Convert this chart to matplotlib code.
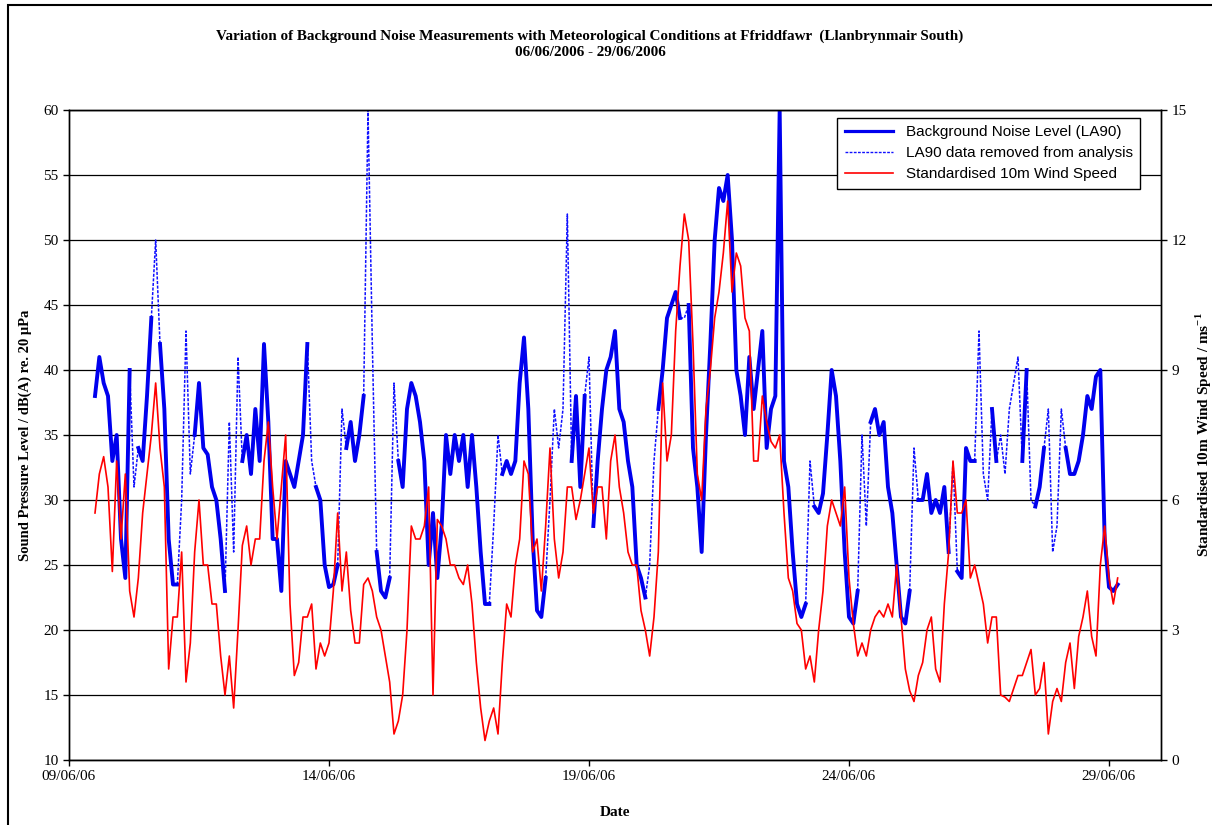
import numpy as np
import matplotlib
matplotlib.use("Agg")
import matplotlib.pyplot as plt
import matplotlib.dates as mdates
from matplotlib.lines import Line2D
from matplotlib.patches import Rectangle
from datetime import datetime, timedelta

# Time axis: hours after 09/06/2006 00:00, 2-hour readings
start = datetime(2006, 6, 9)
hours = np.arange(12, 486, 2)

# Background noise level LA90, dB(A)
la90 = [
    38, 41, 39, 38, 33, 35, 27, 24, 40, 31, 34, 33,
    38, 44, 50, 42, 37, 27, 23.5, 23.5, 30, 43, 32, 35,
    39, 34, 33.5, 31, 30, 27, 23, 36, 26, 41, 33, 35,
    32, 37, 33, 42, 36, 27, 27, 23, 33, 32, 31, 33,
    35, 42, 33, 31, 30, 25, 23.3, 23.5, 25, 37, 34, 36,
    33, 35, 38, 60, 42, 26, 23, 22.5, 24, 39, 33, 31,
    37, 39, 38, 36, 33, 25, 29, 24, 28, 35, 32, 35,
    33, 35, 31, 35, 31, 26, 22, 22, 28, 35, 32, 33,
    32, 33, 39, 42.5, 37, 27, 21.5, 21, 24, 30, 37, 34,
    37, 52, 33, 38, 31, 38, 41, 28, 33, 37, 40, 41,
    43, 37, 36, 33, 31, 25, 24, 22.5, 25, 33, 37, 40,
    44, 45, 46, 44, 44, 45, 34, 31, 26, 35, 42, 50,
    54, 53, 55, 50, 40, 38, 35, 41, 37, 40, 43, 34,
    37, 38, 60, 33, 31, 26, 22, 21, 22, 33, 29.5, 29,
    30.5, 35, 40, 38, 33, 26, 21, 20.5, 23, 35, 28, 36,
    37, 35, 36, 31, 29, 25, 21, 20.5, 23, 34, 30, 30,
    32, 29, 30, 29, 31, 26, 33, 24.5, 24, 34, 33, 33,
    43, 32, 30, 37, 33, 35, 32, 37, 39, 41, 33, 40,
    30, 29.5, 31, 34, 37, 26, 28, 37, 34, 32, 32, 33,
    35, 38, 37, 39.5, 40, 27, 23.3, 23, 23.5,
]

# readings removed from the analysis (hour stamps)
removed_hours = [30, 40, 52, 54, 56, 74, 76, 78, 112, 126, 138, 140, 150,
                 196, 198, 222, 224, 228, 230, 240, 268, 270, 284, 342,
                 366, 368, 390, 408, 420, 424, 430, 432, 434, 436, 438,
                 444, 452, 454, 456, 458]

# Standardised 10m wind speed, m/s
wind = [
    5.7, 6.6, 7.0, 6.3, 4.35, 6.9, 5.1, 6.6, 3.9, 3.3, 4.2, 5.7,
    6.6, 7.5, 8.7, 7.2, 6.3, 2.1, 3.3, 3.3, 4.8, 1.8, 2.7, 4.8,
    6.0, 4.5, 4.5, 3.6, 3.6, 2.4, 1.5, 2.4, 1.2, 3.0, 4.95, 5.4,
    4.5, 5.1, 5.1, 6.9, 7.8, 6.3, 5.1, 6.3, 7.5, 3.6, 1.95, 2.25,
    3.3, 3.3, 3.6, 2.1, 2.7, 2.4, 2.7, 3.9, 5.7, 3.9, 4.8, 3.45,
    2.7, 2.7, 4.05, 4.2, 3.9, 3.3, 3.0, 2.4, 1.8, 0.6, 0.9, 1.5,
    3.0, 5.4, 5.1, 5.1, 5.4, 6.3, 1.5, 5.55, 5.4, 5.1, 4.5, 4.5,
    4.2, 4.05, 4.5, 3.6, 2.25, 1.2, 0.45, 0.9, 1.2, 0.6, 2.25, 3.6,
    3.3, 4.5, 5.1, 6.9, 6.6, 4.8, 5.1, 3.9, 5.4, 7.2, 5.1, 4.2,
    4.8, 6.3, 6.3, 5.55, 6.0, 6.6, 7.2, 5.7, 6.3, 6.3, 5.1, 6.9,
    7.5, 6.3, 5.7, 4.8, 4.5, 4.5, 3.45, 3.0, 2.4, 3.3, 4.8, 8.7,
    6.9, 7.5, 9.9, 11.4, 12.6, 12.0, 9.6, 6.6, 6.0, 8.1, 9.0, 10.2,
    10.8, 11.7, 12.9, 10.8, 11.7, 11.4, 10.2, 9.9, 6.9, 6.9, 8.4, 7.8,
    7.35, 7.2, 7.5, 5.7, 4.2, 3.9, 3.15, 3.0, 2.1, 2.4, 1.8, 3.0,
    3.9, 5.4, 6.0, 5.7, 5.4, 6.3, 4.2, 3.15, 2.4, 2.7, 2.4, 3.0,
    3.3, 3.45, 3.3, 3.6, 3.3, 4.5, 3.3, 2.1, 1.6, 1.35, 1.95, 2.25,
    3.0, 3.3, 2.1, 1.8, 3.6, 4.8, 6.9, 5.7, 5.7, 6.0, 4.2, 4.5,
    4.05, 3.6, 2.7, 3.3, 3.3, 1.5, 1.45, 1.35, 1.65, 1.95, 1.95, 2.25,
    2.55, 1.5, 1.65, 2.25, 0.6, 1.35, 1.65, 1.35, 2.25, 2.7, 1.65, 2.85,
    3.3, 3.9, 2.85, 2.4, 4.5, 5.4, 4.2, 3.6, 4.2,
]

times = mdates.date2num([start + timedelta(hours=int(h)) for h in hours])
la90 = np.array(la90, dtype=float)
wind = np.array(wind, dtype=float)

rem = np.isin(hours, removed_hours)
near = rem.copy()
near[1:] |= rem[:-1]
near[:-1] |= rem[1:]
solid = np.where(rem, np.nan, la90)
dashed = np.where(near, la90, np.nan)

serif = "Liberation Serif"
fig = plt.figure(figsize=(12.12, 8.25), dpi=100)
ax = fig.add_axes([69 / 1212, 65 / 825, 1092 / 1212, 650 / 825])
ax2 = ax.twinx()

ax.plot(times, dashed, color="#1010ff", lw=1.1, ls=(0, (2, 1)))
ax.plot(times, solid, color="#0000ee", lw=2.8)
ax2.plot(times, wind, color="#ff0000", lw=1.2)

ax.set_ylim(10, 60)
ax.set_yticks(range(10, 61, 5))
ax2.set_ylim(0, 15)
ax2.set_yticks(range(0, 16, 3))
ax.set_xlim(mdates.date2num(datetime(2006, 6, 9)), mdates.date2num(datetime(2006, 6, 30)))
ax.set_xticks(mdates.date2num([datetime(2006, 6, d) for d in (9, 14, 19, 24, 29)]))
ax.xaxis.set_major_formatter(mdates.DateFormatter("%d/%m/%y"))

ax.yaxis.grid(True, color="black", lw=0.9)
ax.set_axisbelow(True)
for a in (ax, ax2):
    a.tick_params(direction="out", length=4, width=1, labelsize=11, color="black")
    for lab in a.get_xticklabels() + a.get_yticklabels():
        lab.set_fontfamily(serif)
    for s in a.spines.values():
        s.set_linewidth(1.0)

ax.set_xlabel("Date", fontfamily=serif, fontweight="bold", fontsize=11, labelpad=16)
ax.set_ylabel("Sound Pressure Level / dB(A) re. 20 \u03bcPa", fontfamily=serif,
              fontweight="bold", fontsize=10.5, labelpad=8)
ax2.set_ylabel(r"Standardised 10m Wind Speed / ms$^{\mathregular{-1}}$", fontfamily=serif,
               fontweight="bold", fontsize=11, labelpad=5)

fig.text(590 / 1212, 1 - 36 / 825,
         "Variation of Background Noise Measurements with Meteorological Conditions at Ffriddfawr  (Llanbrynmair South)",
         ha="center", va="center", fontfamily=serif, fontweight="bold", fontsize=10.9)
fig.text(590 / 1212, 1 - 53 / 825, "06/06/2006 - 29/06/2006",
         ha="center", va="center", fontfamily=serif, fontweight="bold", fontsize=10.9)

handles = [Line2D([], [], color="#0000ee", lw=2.3),
           Line2D([], [], color="#1010ff", lw=1.0, ls=(0, (2, 1))),
           Line2D([], [], color="#ff0000", lw=1.2)]
labels = ["Background Noise Level (LA90)", "LA90 data removed from analysis",
          "Standardised 10m Wind Speed"]
leg = ax2.legend(handles, labels, loc="upper right", bbox_to_anchor=(0.981, 0.988),
                 borderaxespad=0, fancybox=False, framealpha=1, edgecolor="black",
                 handlelength=3.2, prop={"family": "Liberation Sans", "size": 11},
                 borderpad=0.5, labelspacing=0.45)
leg.get_frame().set_linewidth(1.0)

fig.patches.append(Rectangle((8 / 1212, -0.01), 1.0, 1 - 5 / 825 + 0.01,
                             transform=fig.transFigure, fill=False, lw=1.5,
                             edgecolor="black"))

fig.savefig("out.png", dpi=100)
